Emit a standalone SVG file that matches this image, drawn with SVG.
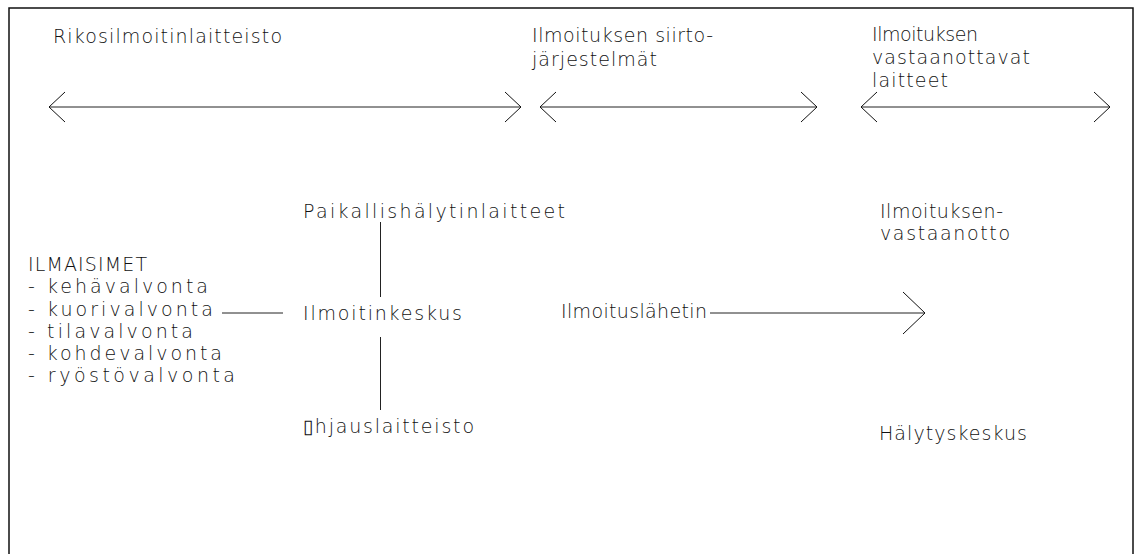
<svg xmlns="http://www.w3.org/2000/svg" width="1135" height="554" viewBox="0 0 1135 554">
  <style>
    text { font-family: "DejaVu Sans", "Liberation Sans", sans-serif; font-size: 19px; font-weight: 200; fill: #111; }
    .ln { stroke: #222; stroke-width: 1; fill: none; }
    .frame { stroke: #111; stroke-width: 1.5; fill: none; }
  </style>
  <defs>
    <marker id="headRange" viewBox="-17 -16 18 32" refX="0" refY="0" markerWidth="18" markerHeight="32" markerUnits="userSpaceOnUse" orient="auto-start-reverse" overflow="visible">
      <path d="M-16,-15 L0,0 L-16,15" fill="none" stroke="#111" stroke-width="1"/>
    </marker>
    <marker id="headFlow" viewBox="-23 -22 24 44" refX="0" refY="0" markerWidth="24" markerHeight="44" markerUnits="userSpaceOnUse" orient="auto" overflow="visible">
      <path d="M-22,-21 L0,0 L-22,21" fill="none" stroke="#111" stroke-width="1"/>
    </marker>
  </defs>

  <rect width="1135" height="554" fill="#fff"/>
  <!-- drawing frame (open at the bottom) -->
  <path class="frame" d="M9,554 V8 H1133 V554"/>

  <!-- section headings -->
  <g id="heading-rikos">
    <text x="53" y="43" textLength="229" lengthAdjust="spacing">Rikosilmoitinlaitteisto</text>
  </g>
  <g id="heading-siirto">
    <text x="532" y="42" textLength="181" lengthAdjust="spacing">Ilmoituksen siirto-</text>
    <text x="532" y="66" textLength="125" lengthAdjust="spacing">järjestelmät</text>
  </g>
  <g id="heading-vastaanotto">
    <text x="872" y="41" textLength="106" lengthAdjust="spacing">Ilmoituksen</text>
    <text x="872" y="64" textLength="158" lengthAdjust="spacing">vastaanottavat</text>
    <text x="872" y="87" textLength="76" lengthAdjust="spacing">laitteet</text>
  </g>

  <!-- nodes -->
  <g id="ilmaisimet">
    <text x="28" y="271" textLength="119" lengthAdjust="spacing">ILMAISIMET</text>
    <text x="28" y="293" textLength="180" lengthAdjust="spacing">-  kehävalvonta</text>
    <text x="28" y="316" textLength="185" lengthAdjust="spacing">-  kuorivalvonta</text>
    <text x="28" y="338" textLength="165" lengthAdjust="spacing">-  tilavalvonta</text>
    <text x="28" y="360" textLength="194" lengthAdjust="spacing">-  kohdevalvonta</text>
    <text x="28" y="382" textLength="207" lengthAdjust="spacing">-  ryöstövalvonta</text>
  </g>
  <g id="paikallishalytin">
    <text x="303" y="218" textLength="262" lengthAdjust="spacing">Paikallishälytinlaitteet</text>
  </g>
  <g id="ilmoitinkeskus">
    <text x="303" y="320" textLength="159" lengthAdjust="spacing">Ilmoitinkeskus</text>
  </g>
  <g id="ohjauslaitteisto">
    <text x="303" y="433" textLength="171" lengthAdjust="spacing">▯hjauslaitteisto</text>
  </g>
  <g id="ilmoituslahetin">
    <text x="561" y="318" textLength="146" lengthAdjust="spacing">Ilmoituslähetin</text>
  </g>
  <g id="ilmoituksen-vastaanotto">
    <text x="880" y="218" textLength="123" lengthAdjust="spacing">Ilmoituksen-</text>
    <text x="880" y="240" textLength="130" lengthAdjust="spacing">vastaanotto</text>
  </g>
  <g id="halytyskeskus">
    <text x="879" y="440" textLength="148" lengthAdjust="spacing">Hälytyskeskus</text>
  </g>

  <!-- connectors -->
  <g id="connectors">
    <line class="ln" x1="49" y1="107" x2="521" y2="107" marker-start="url(#headRange)" marker-end="url(#headRange)"/>
    <line class="ln" x1="540" y1="107" x2="817" y2="107" marker-start="url(#headRange)" marker-end="url(#headRange)"/>
    <line class="ln" x1="861" y1="107" x2="1110" y2="107" marker-start="url(#headRange)" marker-end="url(#headRange)"/>
    <line class="ln" x1="222" y1="313" x2="283" y2="313"/>
    <line class="ln" x1="380.5" y1="222" x2="380.5" y2="297"/>
    <line class="ln" x1="380.5" y1="337" x2="380.5" y2="410"/>
    <line class="ln" x1="710" y1="313" x2="925" y2="313" marker-end="url(#headFlow)"/>
  </g>
</svg>
